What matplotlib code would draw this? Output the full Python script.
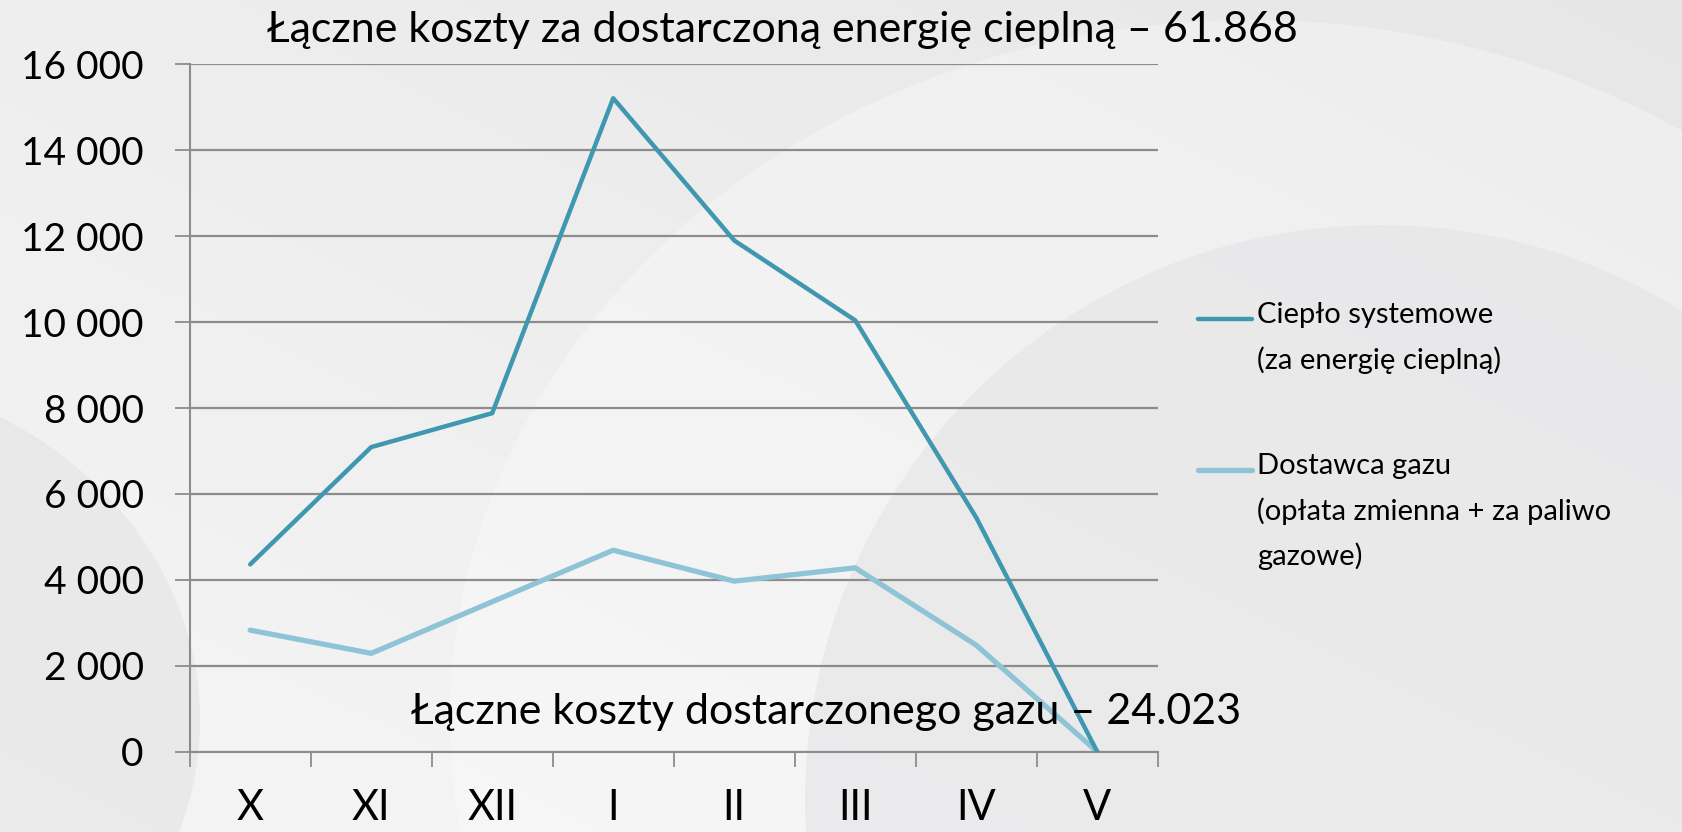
import matplotlib.pyplot as plt
import matplotlib.patches as mpatches
from matplotlib.lines import Line2D
from matplotlib.ticker import FuncFormatter
import numpy as np

months = ['X', 'XI', 'XII', 'I', 'II', 'III', 'IV', 'V']
cieplo = [4360, 7090, 7880, 15210, 11900, 10040, 5450, 0]
gaz = [2830, 2290, 3490, 4690, 3970, 4280, 2480, 0]

title_top = 'Łączne koszty za dostarczoną energię cieplną – 61.868'
title_bottom = 'Łączne koszty dostarczonego gazu – 24.023'
legend_labels = ['Ciepło systemowe\n(za energię cieplną)',
                 'Dostawca gazu\n(opłata zmienna + za paliwo\ngazowe)']

c_dark = '#3f97b0'
c_light = '#8fc4d6'
c_grid = '#8c8c8c'

plt.rcParams['font.family'] = ['Lato', 'DejaVu Sans']

fig = plt.figure(figsize=(16.83, 8.32), dpi=100)
fig.patch.set_facecolor('#ececed')

# background swirl
bg = fig.add_axes([0, 0, 1, 1], zorder=-10)
bg.set_xlim(0, 1683)
bg.set_ylim(832, 0)
bg.axis('off')
yy, xx = np.mgrid[0:832, 0:1683]
grad = 0.93 + 0.03 * (yy / 832) - 0.03 * (xx / 1683)
bg.imshow(grad, cmap='gray', vmin=0, vmax=1, extent=(0, 1683, 832, 0), aspect='auto')
bg.add_patch(mpatches.Ellipse((1250, 720), 1600, 1400, color='white', alpha=0.3, lw=0))
bg.add_patch(mpatches.Ellipse((1380, 800), 1150, 1150, color='#e4e4e6', alpha=0.6, lw=0))
bg.add_patch(mpatches.Ellipse((-200, 720), 800, 700, color='#e3e3e5', alpha=0.6, lw=0))

ax = fig.add_axes([0.1127, 0.0965, 0.5752, 0.8262])
ax.patch.set_alpha(0)
x = np.arange(len(months)) + 0.5
ax.plot(x, cieplo, color=c_dark, lw=3.2, solid_capstyle='round', solid_joinstyle='round', zorder=3)
ax.plot(x, gaz, color=c_light, lw=3.8, solid_capstyle='round', solid_joinstyle='round', zorder=2)

ax.set_xlim(0, len(months))
ax.set_ylim(0, 16000)
ax.set_yticks(np.arange(0, 16001, 2000))
ax.yaxis.set_major_formatter(FuncFormatter(lambda v, p: f'{int(v):,}'.replace(',', ' ')))
ax.set_xticks(np.arange(0, len(months) + 1))
ax.set_xticklabels([])
ax.set_xticks(x, minor=True)
ax.set_xticklabels(months, minor=True)
ax.tick_params(axis='x', which='minor', length=0, pad=27, labelsize=30)
ax.tick_params(axis='x', which='major', length=11, width=1.3, color=c_grid)
ax.tick_params(axis='y', length=11, width=1.3, color=c_grid, pad=22, labelsize=28)
ax.grid(axis='y', color=c_grid, lw=1.6)
ax.set_axisbelow(True)
for s in ['top', 'right']:
    ax.spines[s].set_visible(False)
for s in ['left', 'bottom']:
    ax.spines[s].set_color(c_grid)
    ax.spines[s].set_linewidth(1.5)

fig.text(782 / 1683, 1 - 30 / 832, title_top, ha='center', va='center', fontsize=31)
ax.text(826 / 1683, 1 - 712 / 832, title_bottom, transform=fig.transFigure,
        ha='center', va='center', fontsize=31, zorder=4)

# legend
for ypix, col, lw, lab in [(319, c_dark, 3.2, legend_labels[0]), (470, c_light, 3.8, legend_labels[1])]:
    yf = 1 - ypix / 832
    fig.add_artist(Line2D([1198 / 1683, 1252 / 1683], [yf, yf], color=col, lw=lw,
                          solid_capstyle='round', transform=fig.transFigure))
    fig.text(1257 / 1683, yf + 17 / 832, lab, ha='left', va='top', fontsize=21,
             linespacing=1.8)

fig.savefig('out.png', dpi=100, facecolor=fig.get_facecolor())
